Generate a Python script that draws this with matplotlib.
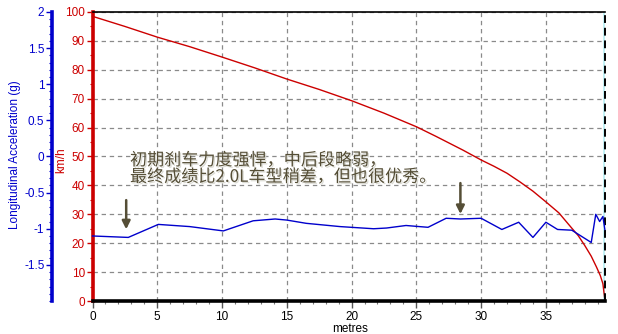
import matplotlib
matplotlib.use("Agg")
import matplotlib.pyplot as plt
from matplotlib.ticker import MultipleLocator, FixedLocator
import matplotlib.patheffects as pe

# ---------------- data ----------------
dist_speed = [0, 2.5, 5, 7.5, 10, 12.5, 15, 17.5, 20, 22.5, 25, 26.5, 28.6, 30, 31,
              32, 33, 34, 35, 36, 37, 37.5, 38, 38.5, 38.9, 39.2, 39.4, 39.55]
speed_kmh = [98.5, 95.0, 91.3, 88.0, 84.4, 80.7, 76.8, 73.2, 69.3, 65.0, 60.3, 57.0,
             52.2, 48.8, 46.6, 44.2, 41.2, 38.0, 34.3, 30.5, 25.2, 22.6, 19.2, 15.5,
             11.8, 8.8, 6.0, 0.5]

dist_acc = [0, 2.76, 5.08, 7.5, 10.1, 12.4, 14.1, 15.0, 16.5, 19.1, 21.7, 22.7, 24.2,
            25.9, 27.3, 28.4, 30.0, 31.6, 32.9, 34.0, 35.0, 35.9, 37.0, 38.5, 38.85,
            39.15, 39.4, 39.55]
accel_g = [-1.10, -1.12, -0.94, -0.97, -1.03, -0.89, -0.865, -0.88, -0.925, -0.97,
           -1.00, -0.99, -0.955, -0.98, -0.855, -0.865, -0.855, -1.01, -0.91, -1.12,
           -0.91, -1.01, -1.02, -1.19, -0.80, -0.90, -0.83, -1.01]

x_ticks = [0, 5, 10, 15, 20, 25, 30, 35]
speed_ticks = [0, 10, 20, 30, 40, 50, 60, 70, 80, 90, 100]
accel_ticks = [2, 1.5, 1, 0.5, 0, -0.5, -1, -1.5]
accel_labels = ["2", "1.5", "1", "0.5", "0", "-0.5", "-1", "-1.5"]

arrow_x = [2.6, 28.4]
arrow_tip = [24.8, 30.1]
arrow_tail = [34.9, 40.8]

note_lines = ["初期刹车力度强悍，中后段略弱，", "最终成绩比2.0L车型稍差，但也很优秀。"]

x_max = 39.55

# ---------------- figure ----------------
plt.rcParams['font.family'] = ['Liberation Sans', 'DejaVu Sans']
fig = plt.figure(figsize=(6.18, 3.34), dpi=100)
fig.patch.set_facecolor("white")
ax = fig.add_axes([0.1497, 0.0988, 0.829, 0.8653])
ax.set_xlim(0, x_max)
ax.set_ylim(0, 100)

RED = "#cc0000"
BLUE = "#0000cc"
DARK = "#554e36"

# grid
ax.set_xticks(x_ticks)
ax.set_yticks(speed_ticks)
ax.xaxis.set_minor_locator(MultipleLocator(1))
ax.yaxis.set_minor_locator(MultipleLocator(5))
ax.grid(True, which="major", color="#8a8a8a", linestyle=(0, (3.5, 3)), linewidth=0.9)
ax.set_axisbelow(True)

# spines
ax.spines["left"].set_color(RED)
ax.spines["left"].set_linewidth(2.6)
ax.spines["bottom"].set_color("black")
ax.spines["bottom"].set_linewidth(2.6)
ax.spines["top"].set_color("black")
ax.spines["top"].set_linewidth(1.2)
ax.spines["right"].set_visible(False)

ax.tick_params(axis="y", which="major", colors=RED, labelcolor=RED, length=4,
               width=1, pad=1.5, labelsize=8.5)
ax.tick_params(axis="y", which="minor", colors=RED, length=2, width=0.8)
ax.tick_params(axis="x", which="major", colors="#555555", labelcolor="black", length=5,
               width=1, pad=2, labelsize=8.5, direction="out")
ax.tick_params(axis="x", which="minor", colors="#777777", length=2.5, width=0.8)

# speed curve
ax.plot(dist_speed, speed_kmh, color=RED, lw=1.0, zorder=3, clip_on=False)

# right-side cursor line
ax.axvline(x_max - 0.06, color="#bff0f5", lw=2.0, zorder=2)
ax.axvline(x_max, color="black", lw=1.4, linestyle=(0, (4, 2.5)), zorder=4, clip_on=False)

# accel axis
ax2 = ax.twinx()
ax2.set_ylim(-2, 2)
ax2.yaxis.set_ticks_position("left")
ax2.yaxis.set_label_position("left")
ax2.spines["left"].set_position(("axes", -0.079))
ax2.spines["left"].set_color(BLUE)
ax2.spines["left"].set_linewidth(2.6)
for s in ["right", "top", "bottom"]:
    ax2.spines[s].set_visible(False)
ax2.yaxis.set_major_locator(FixedLocator(accel_ticks))
ax2.set_yticklabels(accel_labels)
ax2.yaxis.set_minor_locator(MultipleLocator(0.1))
ax2.tick_params(axis="y", which="major", colors=BLUE, labelcolor=BLUE, length=4,
                width=1, pad=1.5, labelsize=8.5)
ax2.tick_params(axis="y", which="minor", colors=BLUE, length=2, width=0.8)
ax2.plot(dist_acc, accel_g, color=BLUE, lw=1.0, zorder=3, clip_on=False)

# axis labels
fig.text(15.5 / 618, 1 - 155 / 334, "Longitudinal Acceleration (g)", rotation=90,
         color=BLUE, fontsize=8.5, ha="center", va="center")
fig.text(61 / 618, 1 - 160 / 334, "km/h", rotation=90, color=RED, fontsize=8.5,
         ha="center", va="center")
fig.text(350 / 618, 1 - 328.5 / 334, "metres", color="black", fontsize=8.5,
         ha="center", va="center")

# annotation text (one block, two lines)
shadow = [pe.withSimplePatchShadow(offset=(1, -1), shadow_rgbFace="#d8d8d0", alpha=0.9)]
fig.text(130 / 618, 1 - 168.5 / 334, "\n".join(note_lines), color=DARK, fontsize=12.3,
         family=["Noto Sans CJK SC", "DejaVu Sans"], ha="left", va="center",
         linespacing=0.9, path_effects=shadow)

# arrows
for xa, yt, yb in zip(arrow_x, arrow_tip, arrow_tail):
    ax.annotate("", xy=(xa, yt), xytext=(xa, yb),
                arrowprops=dict(arrowstyle="-|>", color=DARK, lw=1.8,
                                mutation_scale=12, shrinkA=0, shrinkB=0),
                zorder=6)

fig.savefig("out.png", dpi=100)
